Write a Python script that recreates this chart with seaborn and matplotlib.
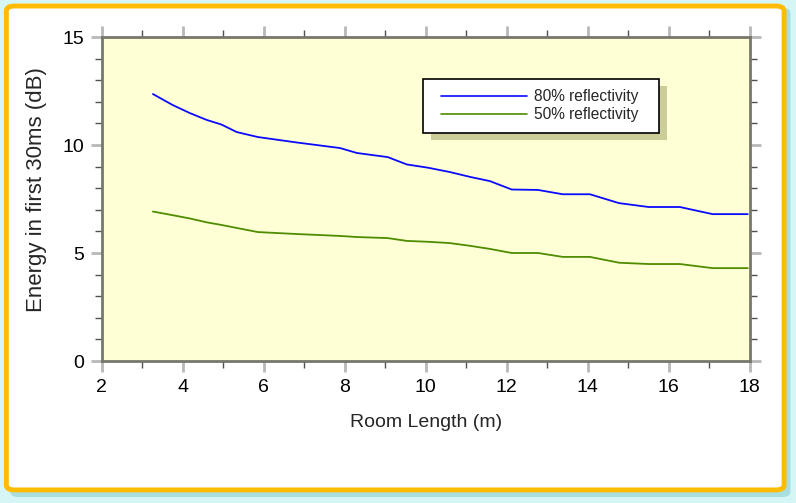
import pandas as pd
import matplotlib.pyplot as plt
import seaborn as sns
from matplotlib.patches import FancyBboxPatch
from matplotlib.ticker import MultipleLocator

# values
room_length = [3.26, 3.75, 4.17, 4.59, 4.95, 5.33, 5.85, 6.8, 7.88, 8.3, 9.06, 9.53,
               10.05, 10.59, 11.1, 11.58, 12.12, 12.77, 13.38, 14.05, 14.77, 15.5,
               16.27, 17.08, 17.95]
energy_80 = [12.36, 11.85, 11.48, 11.16, 10.95, 10.6, 10.37, 10.12, 9.86, 9.63, 9.44, 9.1,
             8.95, 8.75, 8.52, 8.33, 7.94, 7.92, 7.72, 7.72, 7.31, 7.13, 7.13, 6.8, 6.8]
energy_50 = [6.92, 6.75, 6.6, 6.42, 6.3, 6.16, 5.97, 5.88, 5.79, 5.74, 5.69, 5.56,
             5.52, 5.46, 5.33, 5.19, 5.0, 5.0, 4.82, 4.82, 4.55, 4.49, 4.49, 4.3, 4.3]
series = ["80% reflectivity", "50% reflectivity"]

df = pd.concat([
    pd.DataFrame({"length": room_length, "energy": energy_80, "series": series[0]}),
    pd.DataFrame({"length": room_length, "energy": energy_50, "series": series[1]}),
])

sns.set_style("ticks")
plt.rcParams['font.family'] = ['Liberation Sans', 'DejaVu Sans']

fig = plt.figure(figsize=(7.96, 5.03), dpi=100, facecolor="#d6f6f6")

# frame: shadow, orange border, white panel
fig.patches.append(FancyBboxPatch((0.013, 0.012), 0.98, 0.972, boxstyle="round,pad=0,rounding_size=0.01",
                                  transform=fig.transFigure, facecolor="#a8dede", edgecolor="none", zorder=0))
fig.patches.append(FancyBboxPatch((0.008, 0.026), 0.977, 0.962, boxstyle="round,pad=0,rounding_size=0.01",
                                  transform=fig.transFigure, facecolor="white", edgecolor="#ffbb00",
                                  linewidth=3.5, zorder=1))

ax = fig.add_axes([0.128, 0.2823, 0.814, 0.6441])
ax.set_zorder(2)
ax.set_facecolor("#ffffd6")

sns.lineplot(data=df, x="length", y="energy", hue="series", palette=["#0a0aff", "#4f8c00"],
             linewidth=1.3, ax=ax, legend=False, zorder=3)

ax.set_xlim(2, 18)
ax.set_ylim(0, 15)
ax.xaxis.set_major_locator(MultipleLocator(2))
ax.xaxis.set_minor_locator(MultipleLocator(1))
ax.yaxis.set_major_locator(MultipleLocator(5))
ax.yaxis.set_minor_locator(MultipleLocator(1))
ax.tick_params(which="major", direction="out", length=8, width=2, color="#b8b8b8",
               labelsize=14, pad=5, top=True, right=True, labelcolor="black")
ax.tick_params(which="minor", direction="out", length=5, width=1, color="#505050",
               top=True, right=True)
for s in ax.spines.values():
    s.set_color("#77776d")
    s.set_linewidth(2)
    s.set_visible(True)

ax.set_xlabel("Room Length (m)", fontsize=14, labelpad=13)
ax.set_ylabel("Energy in first 30ms (dB)", fontsize=16, labelpad=10)
ax.yaxis.set_label_coords(-0.085, 0.53)

# legend drawn by hand to keep the offset shadow
lx0, lx1, ly0, ly1 = 423 / 796, 659 / 796, 1 - 133 / 503, 1 - 79 / 503
fig.patches.append(plt.Rectangle((lx0 + 8 / 796, ly0 - 7 / 503), lx1 - lx0, ly1 - ly0,
                                 transform=fig.transFigure, facecolor="#cccc99", edgecolor="none", zorder=4))
fig.patches.append(plt.Rectangle((lx0, ly0), lx1 - lx0, ly1 - ly0, transform=fig.transFigure,
                                 facecolor="white", edgecolor="black", linewidth=1.2, zorder=5))
for name, color, ypx in zip(series, ["#0a0aff", "#4f8c00"], [96, 114]):
    y = 1 - ypx / 503
    fig.add_artist(plt.Line2D([441 / 796, 527 / 796], [y, y], transform=fig.transFigure,
                              color=color, linewidth=1.2, zorder=6))
    fig.text(534 / 796, y, name, fontsize=11.2, va="center", ha="left", zorder=6)

fig.savefig("out.png", dpi=100, facecolor=fig.get_facecolor())
